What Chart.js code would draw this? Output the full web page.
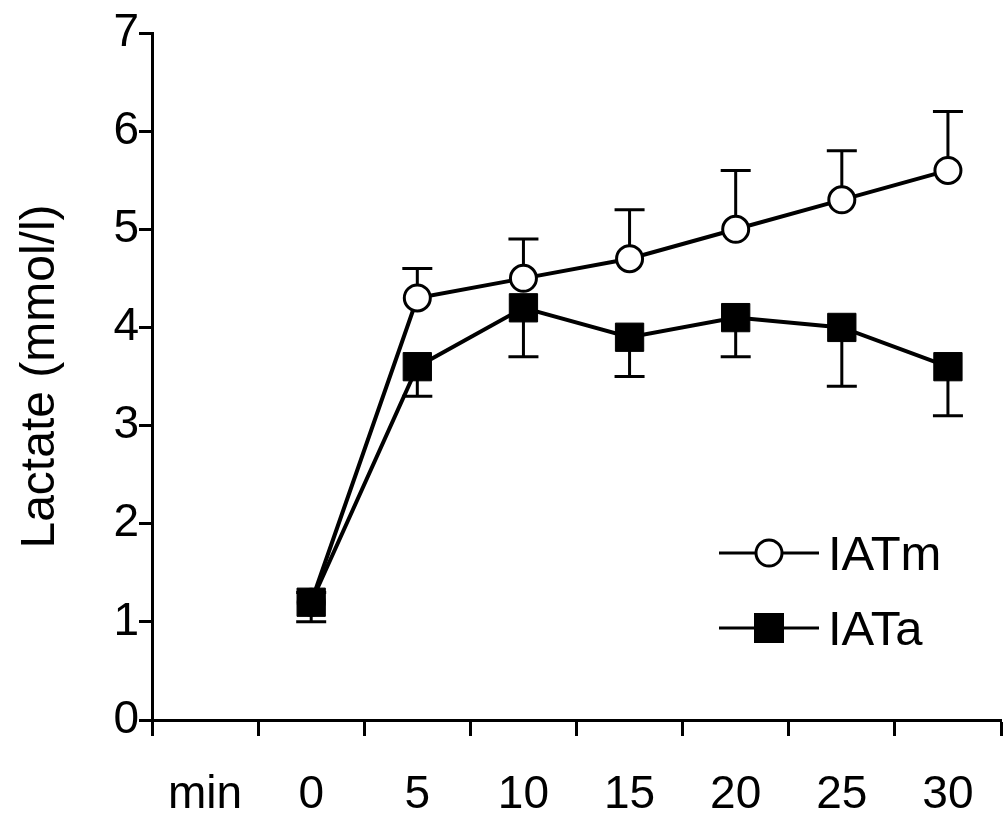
<!DOCTYPE html>
<html>
<head>
<meta charset="utf-8">
<script src="https://cdn.jsdelivr.net/npm/chart.js@4"></script>
<style>
  body { margin: 0; background: #fff; }
  #wrap { width: 1005px; height: 820px; }
</style>
</head>
<body>
<div id="wrap"><canvas id="myChart" width="1005" height="820"></canvas></div>
<script>
const timeLabels = ["min", "0", "5", "10", "15", "20", "25", "30"];

// IATm: mean and upper error (open circles)
const iatmValues = [null, 1.2, 4.3, 4.5, 4.7, 5.0, 5.3, 5.6];
const iatmUpper = [null, 1.3, 4.6, 4.9, 5.2, 5.6, 5.8, 6.2];

// IATa: mean and lower error (filled squares)
const iataValues = [null, 1.2, 3.6, 4.2, 3.9, 4.1, 4.0, 3.6];
const iataLower = [null, 1.0, 3.3, 3.7, 3.5, 3.7, 3.4, 3.1];

const yTicks = [0, 1, 2, 3, 4, 5, 6, 7];

const FONT = "'Liberation Sans', Arial, sans-serif";
Chart.defaults.font.family = FONT;
Chart.defaults.color = "#000";

const errorBars = {
    id: "errorBars",
    beforeDatasetsDraw(chart) {
        const ctx = chart.ctx;
        const yScale = chart.scales.y;
        ctx.save();
        ctx.strokeStyle = "#000";
        ctx.lineWidth = 3;
        chart.data.datasets.forEach((ds, di) => {
            const meta = chart.getDatasetMeta(di);
            ds.errorEnds.forEach((end, i) => {
                if (end == null) return;
                const pt = meta.data[i];
                const yEnd = yScale.getPixelForValue(end);
                ctx.beginPath();
                ctx.moveTo(pt.x, pt.y);
                ctx.lineTo(pt.x, yEnd);
                ctx.moveTo(pt.x - 15, yEnd);
                ctx.lineTo(pt.x + 15, yEnd);
                ctx.stroke();
            });
        });
        ctx.restore();
    },
};

// legend with line + marker, drawn in the lower right of the plot
const lineLegend = {
    id: "lineLegend",
    afterDraw(chart) {
        const ctx = chart.ctx;
        const area = chart.chartArea;
        const x0 = area.right - 282;
        const x1 = area.right - 182;
        const mid = (x0 + x1) / 2;
        const rows = [
            { text: "IATm", y: area.bottom - 167, style: "circle" },
            { text: "IATa", y: area.bottom - 92, style: "rect" },
        ];
        ctx.save();
        rows.forEach((r) => {
            ctx.strokeStyle = "#000";
            ctx.lineWidth = 3;
            ctx.beginPath();
            ctx.moveTo(x0, r.y);
            ctx.lineTo(x1, r.y);
            ctx.stroke();
            if (r.style === "circle") {
                ctx.fillStyle = "#fff";
                ctx.beginPath();
                ctx.arc(mid, r.y, 13, 0, Math.PI * 2);
                ctx.fill();
                ctx.stroke();
            } else {
                ctx.fillStyle = "#000";
                ctx.fillRect(mid - 15, r.y - 15, 30, 30);
            }
            ctx.fillStyle = "#000";
            ctx.font = "49px " + FONT;
            ctx.textBaseline = "middle";
            ctx.fillText(r.text, x1 + 9, r.y + 3);
        });
        ctx.restore();
    },
};

const ctx = document.getElementById("myChart").getContext("2d");

const myChart = new Chart(ctx, {
    type: "line",
    data: {
        labels: timeLabels,
        datasets: [
            {
                label: "IATm",
                data: iatmValues,
                errorEnds: iatmUpper,
                borderColor: "#000",
                borderWidth: 4,
                pointStyle: "circle",
                pointRadius: 13,
                pointBorderWidth: 3,
                pointBackgroundColor: "#fff",
                pointBorderColor: "#000",
                tension: 0,
                order: 2,
            },
            {
                label: "IATa",
                data: iataValues,
                errorEnds: iataLower,
                borderColor: "#000",
                borderWidth: 4,
                pointStyle: "rect",
                pointRadius: 20,
                pointBorderWidth: 1,
                pointBackgroundColor: "#000",
                pointBorderColor: "#000",
                tension: 0,
                order: 1,
            },
        ],
    },
    options: {
        responsive: false,
        animation: false,
        layout: {
            autoPadding: false,
            padding: { top: 33, right: 4, left: 0, bottom: 0 },
        },
        plugins: {
            legend: { display: false },
            tooltip: { enabled: false },
        },
        scales: {
            x: {
                type: "category",
                offset: true,
                grid: {
                    offset: true,
                    drawOnChartArea: false,
                    tickLength: 16,
                    tickWidth: 3,
                    tickColor: "#000",
                },
                border: { color: "#000", width: 3 },
                ticks: {
                    font: { size: 46 },
                    padding: 32,
                    maxRotation: 0,
                    autoSkip: false,
                },
                afterFit(scale) {
                    scale.height = 100;
                    // labels sit inside the offset categories, no edge padding needed
                    scale.paddingLeft = 0;
                    scale.paddingRight = 0;
                },
            },
            y: {
                min: 0,
                max: 7,
                afterBuildTicks(scale) {
                    scale.ticks = yTicks.map((v) => ({ value: v }));
                },
                grid: {
                    drawOnChartArea: false,
                    tickLength: 13,
                    tickWidth: 3,
                    tickColor: "#000",
                },
                border: { color: "#000", width: 3 },
                ticks: {
                    font: { size: 46 },
                    padding: 0,
                },
                title: {
                    display: true,
                    text: "Lactate (mmol/l)",
                    font: { size: 48 },
                    padding: { top: 12, bottom: 0 },
                },
                afterFit(scale) {
                    scale.width = 152;
                },
            },
        },
    },
    plugins: [errorBars, lineLegend],
});
</script>
</body>
</html>
